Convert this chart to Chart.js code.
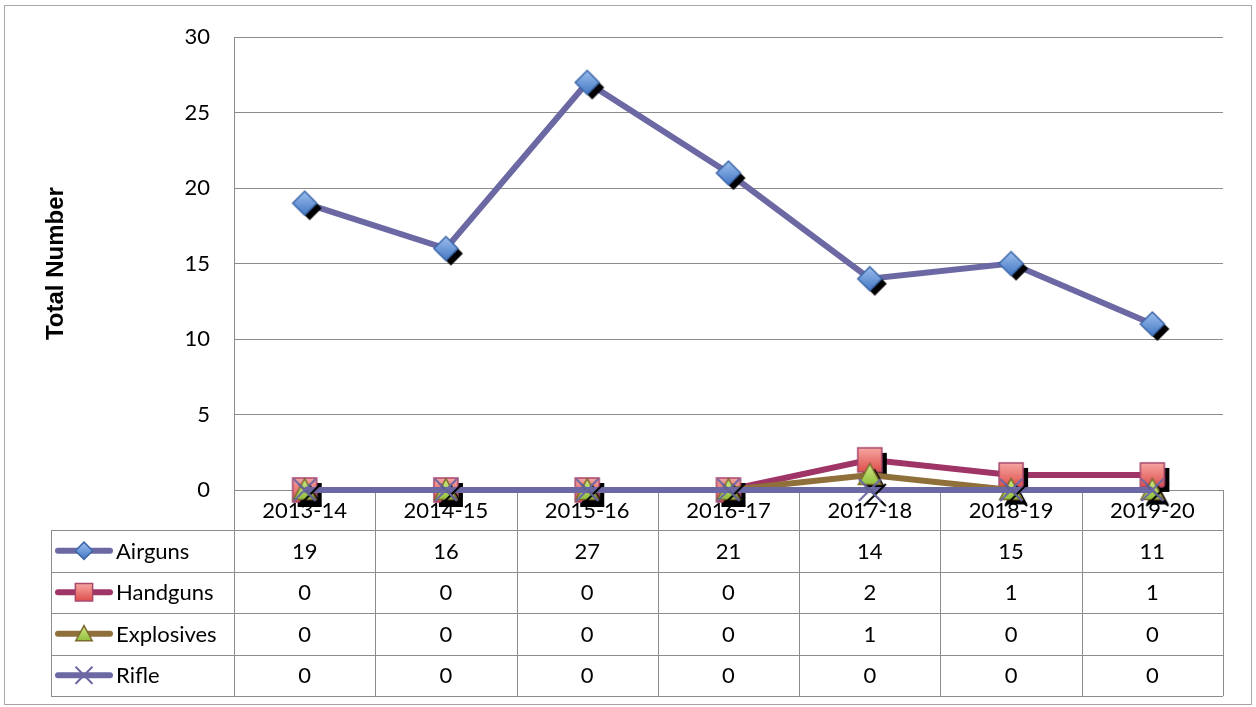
<!DOCTYPE html>
<html>
<head>
<meta charset="utf-8">
<script src="https://cdn.jsdelivr.net/npm/chart.js@4"></script>
<style>
  html, body { margin: 0; padding: 0; background: #fff; }
</style>
</head>
<body>
<canvas id="weaponsChart" width="1256" height="707"></canvas>
<script>
// data
var years = ['2013-14', '2014-15', '2015-16', '2016-17', '2017-18', '2018-19', '2019-20'];
var airguns = [19, 16, 27, 21, 14, 15, 11];
var handguns = [0, 0, 0, 0, 2, 1, 1];
var explosives = [0, 0, 0, 0, 1, 0, 0];
var rifle = [0, 0, 0, 0, 0, 0, 0];
var seriesNames = ['Airguns', 'Handguns', 'Explosives', 'Rifle'];
var yTicks = [0, 5, 10, 15, 20, 25, 30];

var FONT = 'Lato, "Liberation Sans", sans-serif';
var lineColors = ['#6B68A3', '#9E3566', '#8F6F3A', '#6B68A3'];
var markerKinds = ['diamond', 'square', 'triangle', 'cross'];

// draws one marker shape at x,y (scale s); shadow = plain black copy
function drawShape(g, kind, x, y, s, shadow) {
    var r = 12 * s;
    g.save();
    g.lineJoin = 'miter';
    g.beginPath();
    if (kind === 'diamond') {
        g.moveTo(x, y - r); g.lineTo(x + r, y); g.lineTo(x, y + r); g.lineTo(x - r, y); g.closePath();
    } else if (kind === 'square') {
        g.rect(x - r, y - r, 2 * r, 2 * r);
    } else if (kind === 'triangle') {
        g.moveTo(x, y - r * 0.95); g.lineTo(x + r * 0.95, y + r * 0.8); g.lineTo(x - r * 0.95, y + r * 0.8); g.closePath();
    } else {
        r = 11 * s;
        g.moveTo(x - r, y - r); g.lineTo(x + r, y + r);
        g.moveTo(x + r, y - r); g.lineTo(x - r, y + r);
        g.lineWidth = 2;
        g.strokeStyle = shadow ? '#000' : '#6B68A3';
        g.stroke();
        g.restore();
        return;
    }
    if (shadow) {
        g.fillStyle = '#000';
        g.fill();
    } else {
        var grad = g.createLinearGradient(0, y - r, 0, y + r);
        if (kind === 'diamond') { grad.addColorStop(0, '#9DC0EE'); grad.addColorStop(1, '#4477C4'); g.strokeStyle = '#3C66A8'; }
        if (kind === 'square') { grad.addColorStop(0, '#F6A6A2'); grad.addColorStop(1, '#DE4F4C'); g.strokeStyle = '#A8466E'; }
        if (kind === 'triangle') { grad.addColorStop(0, '#D2EA8A'); grad.addColorStop(1, '#8DBB35'); g.strokeStyle = '#7C6B2E'; }
        g.fillStyle = grad;
        g.fill();
        g.lineWidth = 1.5;
        g.stroke();
    }
    g.restore();
}

function makeMarker(kind) {
    var c = document.createElement('canvas');
    c.width = 44; c.height = 44;
    var g = c.getContext('2d');
    drawShape(g, kind, 27, 27, 1, true);
    drawShape(g, kind, 22, 22, 1, false);
    return c;
}

var allSeries = [airguns, handguns, explosives, rifle];
var datasets = allSeries.map(function(vals, i) {
    return {
        label: seriesNames[i],
        data: vals,
        borderColor: lineColors[i],
        backgroundColor: lineColors[i],
        borderWidth: 6,
        tension: 0,
        clip: false,
        pointStyle: makeMarker(markerKinds[i]),
        order: allSeries.length - i
    };
});

// outer frame of the chart
var framePlugin = {
    id: 'frame',
    beforeDraw: function(chart) {
        var ctx = chart.ctx;
        ctx.save();
        ctx.fillStyle = '#fff';
        ctx.fillRect(0, 0, chart.width, chart.height);
        ctx.strokeStyle = '#A6A6A6';
        ctx.lineWidth = 1;
        ctx.strokeRect(4.5, 5.5, 1247, 699);
        ctx.restore();
    }
};

// Excel-style data table under the x axis
var tablePlugin = {
    id: 'dataTable',
    beforeDatasetsDraw: function(chart) {
        var ctx = chart.ctx;
        var xs = chart.scales.x;
        var area = chart.chartArea;
        var colW = (area.right - area.left) / years.length;
        var labelRowH = 40;
        var rowH = 41.5;
        var top = area.bottom + labelRowH;
        var tableLeft = 51;
        var bottom = top + rowH * seriesNames.length;

        ctx.save();
        ctx.strokeStyle = '#8C8C8C';
        ctx.lineWidth = 1;
        ctx.beginPath();
        // horizontal lines
        for (var r = 0; r <= seriesNames.length; r++) {
            var y = Math.round(top + rowH * r) + 0.5;
            ctx.moveTo(tableLeft, y);
            ctx.lineTo(area.right, y);
        }
        // vertical lines
        ctx.moveTo(tableLeft + 0.5, top);
        ctx.lineTo(tableLeft + 0.5, bottom);
        for (var c = 0; c <= years.length; c++) {
            var x = Math.round(area.left + colW * c) + 0.5;
            ctx.moveTo(x, area.bottom);
            ctx.lineTo(x, bottom);
        }
        ctx.stroke();

        ctx.fillStyle = '#000';
        ctx.font = '22px ' + FONT;
        ctx.textBaseline = 'middle';
        seriesNames.forEach(function(name, i) {
            var cy = top + rowH * i + rowH / 2;
            // legend key
            ctx.save();
            ctx.strokeStyle = lineColors[i];
            ctx.lineWidth = 6;
            ctx.lineCap = 'round';
            ctx.beginPath();
            ctx.moveTo(58, cy);
            ctx.lineTo(110, cy);
            ctx.stroke();
            drawShape(ctx, markerKinds[i], 84, cy, 0.72, false);
            ctx.restore();
            ctx.textAlign = 'left';
            ctx.fillText(name, 116, cy + 1);
            ctx.textAlign = 'center';
            allSeries[i].forEach(function(v, j) {
                ctx.fillText(String(v), xs.getPixelForValue(j), cy + 1);
            });
        });
        ctx.restore();
    }
};

new Chart(document.getElementById('weaponsChart'), {
    type: 'line',
    data: { labels: years, datasets: datasets },
    options: {
        responsive: false,
        animation: false,
        devicePixelRatio: 1,
        events: [],
        layout: { padding: { left: 4, right: 33, top: 34, bottom: 177 } },
        plugins: { legend: { display: false }, tooltip: { enabled: false } },
        scales: {
            x: {
                offset: true,
                grid: { display: false, drawTicks: false },
                border: { display: true, color: '#8C8C8C', width: 1 },
                ticks: { color: '#000', font: { family: FONT, size: 22 }, padding: 8, maxRotation: 0, autoSkip: false },
                afterFit: function(scale) { scale.height = 40; }
            },
            y: {
                min: yTicks[0],
                max: yTicks[yTicks.length - 1],
                grid: { color: '#8C8C8C', lineWidth: 1, drawTicks: false },
                border: { display: true, color: '#8C8C8C', width: 1 },
                ticks: { stepSize: 5, color: '#000', font: { family: FONT, size: 22 }, padding: 24 },
                title: {
                    display: true,
                    text: 'Total Number',
                    color: '#000',
                    font: { family: '"Liberation Sans", Arial, sans-serif', size: 24, weight: 'bold' },
                    padding: { top: 38, bottom: 0 }
                },
                afterFit: function(scale) { scale.width = 230; }
            }
        }
    },
    plugins: [framePlugin, tablePlugin]
});
</script>
</body>
</html>
